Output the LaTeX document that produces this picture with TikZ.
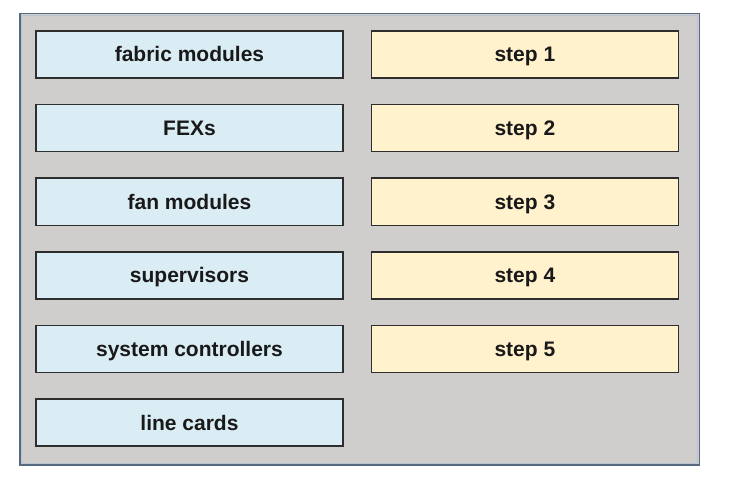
\documentclass[tikz,border=0pt]{standalone}
\usepackage{fontspec}
\setmainfont{Liberation Sans}
\usepackage{xcolor}
\usetikzlibrary{positioning}

\definecolor{panelgray}{HTML}{D0CDCD}
\definecolor{paneledge}{HTML}{55697F}
\definecolor{paneledgein}{HTML}{B9C3D2}
\definecolor{itemblue}{HTML}{DAECF4}
\definecolor{stepyellow}{HTML}{FFF2CD}
\definecolor{boxline}{HTML}{2E2E2E}

\begin{document}
\begin{tikzpicture}[
    x=1pt, y=-1pt,
    box/.style={draw=boxline, line width=1.4pt, minimum width=307pt, minimum height=47pt, inner sep=0pt, align=center, text height=15pt, text depth=0pt, font=\fontsize{21}{24}\selectfont\bfseries, text=black!90},
    item/.style={box, fill=itemblue},
    stepbox/.style={box, fill=stepyellow},
    node distance=25.2pt and 27pt
]
\useasboundingbox (0,0) rectangle (741,481);
% panel
\draw[fill=panelgray, draw=paneledge, line width=1.5pt] (20,13.5) rectangle (699.5,465);
\draw[paneledgein, line width=1pt] (21.8,15.3) rectangle (697.7,463.2);

% components
\node[item] (fab) at (189.5,54.5) {fabric modules};
\node[item, below=of fab] (fex) {FEXs};
\node[item, below=of fex] (fan) {fan modules};
\node[item, below=of fan] (sup) {supervisors};
\node[item, below=of sup] (sysc) {system controllers};
\node[item, below=of sysc] (lc) {line cards};

% steps
\node[stepbox, right=of fab] (s1) {step 1};
\node[stepbox, below=of s1] (s2) {step 2};
\node[stepbox, below=of s2] (s3) {step 3};
\node[stepbox, below=of s3] (s4) {step 4};
\node[stepbox, below=of s4] (s5) {step 5};
\end{tikzpicture}
\end{document}
